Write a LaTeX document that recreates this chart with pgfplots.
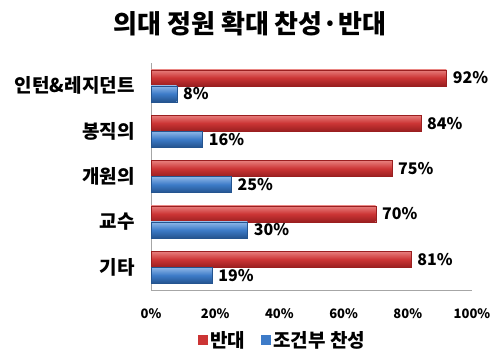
\documentclass[border=0pt]{standalone}
\usepackage{fontspec}
\setmainfont{Noto Sans CJK KR}
\usepackage{pgfplots}
\pgfplotsset{compat=1.18}
\definecolor{barred}{HTML}{CC3535}
\definecolor{barredtop}{HTML}{E8807E}
\definecolor{barreddark}{HTML}{9A1F20}
\definecolor{barblue}{HTML}{3D7BC8}
\definecolor{barbluetop}{HTML}{90B8E8}
\definecolor{barbluedark}{HTML}{24548F}
\pgfplotsset{
  redbar/.style={bar shift=8bp, draw=barreddark, line width=0.3pt, top color=barredtop, bottom color=barreddark, middle color=barred},
  bluebar/.style={bar shift=-8bp, draw=barbluedark, line width=0.3pt, top color=barbluetop, bottom color=barbluedark, middle color=barblue},
}
\begin{document}
\begin{tikzpicture}[x=1bp,y=1bp]
\path (0,0) rectangle (500,357);
\node[font=\fontsize{26bp}{30bp}\selectfont\bfseries] at (250,333) {의대 정원 확대 찬성·반대};
\begin{axis}[
  at={(151bp,67bp)}, anchor=south west,
  scale only axis, width=321bp, height=227bp,
  xmin=0, xmax=100, ymin=-0.5, ymax=4.5,
  xbar, bar width=16bp,
  axis x line*=bottom, axis y line*=left,
  axis line style={gray!70, line width=0.8pt},
  x axis line style={-}, y axis line style={-},
  xtick={0,20,...,100}, major tick length=0pt,
  ytick={0,1,2,3,4},
  yticklabels={기타,교수,개원의,봉직의,인턴\&레지던트},
  /pgf/number format/assume math mode=true,
  xticklabel={\pgfmathprintnumber{\tick}\%},
  xticklabel style={font=\fontsize{13bp}{15bp}\selectfont\bfseries, yshift=-15bp},
  yticklabel style={font=\fontsize{19bp}{22bp}\selectfont\bfseries, xshift=-13bp},
  nodes near coords={\pgfmathprintnumber{\pgfplotspointmeta}\%},
  nodes near coords style={font=\fontsize{16bp}{19bp}\selectfont\bfseries, black, xshift=3bp},
  legend style={draw=none, at={(0.41,-0.22)}, anchor=center, font=\fontsize{19bp}{22bp}\selectfont\bfseries, legend columns=2, /tikz/every even column/.append style={column sep=14bp}},
  legend image code/.code={\draw[#1, draw=none] (0bp,-5bp) rectangle (10bp,5bp);},
  clip=false,
]
\addlegendimage{fill=barred, draw=none}
\addlegendentry{반대}
\addlegendimage{fill=barblue, draw=none}
\addlegendentry{조건부 찬성}
\addplot[redbar] coordinates {(81,0)};
\addplot[redbar] coordinates {(70,1)};
\addplot[redbar] coordinates {(75,2)};
\addplot[redbar] coordinates {(84,3)};
\addplot[redbar] coordinates {(92,4)};
\addplot[bluebar] coordinates {(19,0)};
\addplot[bluebar] coordinates {(30,1)};
\addplot[bluebar] coordinates {(25,2)};
\addplot[bluebar] coordinates {(16,3)};
\addplot[bluebar] coordinates {(8,4)};
\end{axis}
\end{tikzpicture}
\end{document}
